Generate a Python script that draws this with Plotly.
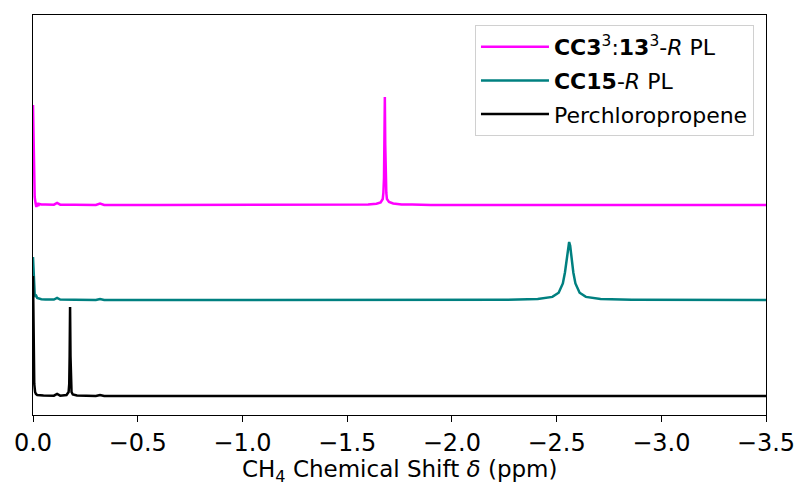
import plotly.graph_objects as go

# ---- data ----
names = ["<b>CC3</b><sup>3</sup>:<b>13</b><sup>3</sup>-<i>R</i> PL",
         "<b>CC15</b>-<i>R</i> PL",
         "Perchloropropene"]
colors = ["#ff00ff", "#008080", "#000000"]
offsets = [191, 96, 0]   # vertical stacking offsets (arbitrary units)

# magenta spectrum: CC3^3:13^3-R PL
x_mag = [0.0, -0.004, -0.008, -0.012, -0.016, -0.02, -0.025, -0.03, -0.04, -0.06, -0.1, -0.115, -0.13,
         -0.2, -0.3, -0.32, -0.34, -0.6, -1.0, -1.4, -1.56, -1.6, -1.64, -1.66, -1.67, -1.673, -1.676,
         -1.678, -1.68, -1.682, -1.684, -1.687, -1.69, -1.70, -1.72, -1.76, -1.81, -1.9, -2.5, -3.5]
y_mag = [100, 35, 8, 2, -2, 2, -1, 1, 0.5, 0.5, 0.3, 2, 0.3,
         0.2, 0, 1.5, 0, 0, 0, 0, 0.4, 0.5, 1.2, 2.5, 6, 12, 27,
         60, 108, 60, 27, 12, 6, 3, 1.5, 0.5, 0.4, 0, 0, 0]

# teal spectrum: CC15-R PL
x_teal = [0.0, -0.004, -0.008, -0.012, -0.016, -0.02, -0.025, -0.03, -0.04, -0.06, -0.1, -0.115, -0.13,
          -0.2, -0.3, -0.32, -0.34, -0.8, -1.5, -2.1, -2.26, -2.41, -2.48, -2.51, -2.53, -2.54, -2.545,
          -2.55, -2.555, -2.56, -2.565, -2.57, -2.575, -2.58, -2.59, -2.61, -2.64, -2.71, -2.86, -3.1, -3.5]
y_teal = [43, 16, 6, 3, 4, 2, 1.5, 1, 0.8, 0.5, 0.4, 2, 0.4,
          0.3, 0, 1, 0, 0, 0, 0, 0.25, 0.9, 3.1, 7.3, 16.6, 27.5, 35.7,
          44.4, 54.2, 58, 54.2, 44.4, 35.7, 27.5, 16.6, 7.3, 3.1, 0.9, 0.25, 0, 0]

# black spectrum: perchloropropene
x_blk = [0.0, -0.003, -0.006, -0.01, -0.014, -0.02, -0.03, -0.05, -0.1, -0.115, -0.13, -0.16, -0.17,
         -0.173, -0.175, -0.177, -0.179, -0.181, -0.184, -0.19, -0.21, -0.3, -0.32, -0.34, -1.0, -2.0, -3.5]
y_blk = [120, 40, 12, 4, 2, 1, 0.8, 0.5, 0.3, 2, 0.3, 1, 4,
         12, 40, 89, 40, 12, 4, 1.5, 0.5, 0, 1, 0, 0, 0, 0]

xs = [x_mag, x_teal, x_blk]
ys = [y_mag, y_teal, y_blk]

x_ticks = [0.0, -0.5, -1.0, -1.5, -2.0, -2.5, -3.0, -3.5]
x_title = "CH<sub>4</sub> Chemical Shift <i>δ</i> (ppm)"

fig = go.Figure()
for i, (name, col, off, x, y) in enumerate(zip(names, colors, offsets, xs, ys)):
    fig.add_trace(go.Scatter(
        x=x, y=[v + off for v in y], mode="lines", name=name,
        legendgroup="g%d" % i,
        line=dict(color=col, width=2.5)))

font_family = "DejaVu Sans"
fig.update_layout(
    width=798, height=484,
    margin=dict(l=33, r=32, t=15, b=69),
    paper_bgcolor="white", plot_bgcolor="white",
    font=dict(family=font_family, size=24, color="black"),
    showlegend=True,
    legend=dict(
        x=0.9836, y=0.975, xanchor="right", yanchor="top",
        bordercolor="#d0d0d0", borderwidth=1, bgcolor="rgba(255,255,255,0.8)",
        font=dict(size=22, family=font_family),
        tracegroupgap=2, itemwidth=68,
    ),
    xaxis=dict(
        range=[0, -3.5], tickvals=x_ticks, tickformat=".1f",
        ticks="outside", ticklen=6, tickwidth=1, tickcolor="black",
        showline=True, linecolor="black", linewidth=1, mirror=True,
        showgrid=False, zeroline=False, automargin=False,
        tickfont=dict(size=24),
    ),
    yaxis=dict(
        range=[-19, 381], showticklabels=False, ticks="",
        showline=True, linecolor="black", linewidth=1, mirror=True,
        showgrid=False, zeroline=False, automargin=False,
    ),
)
fig.add_annotation(
    text=x_title, xref="paper", yref="paper", x=0.5, y=-0.139,
    xanchor="center", yanchor="middle", showarrow=False,
    font=dict(size=23, family=font_family, color="black"),
)

fig.write_html("out.html")
